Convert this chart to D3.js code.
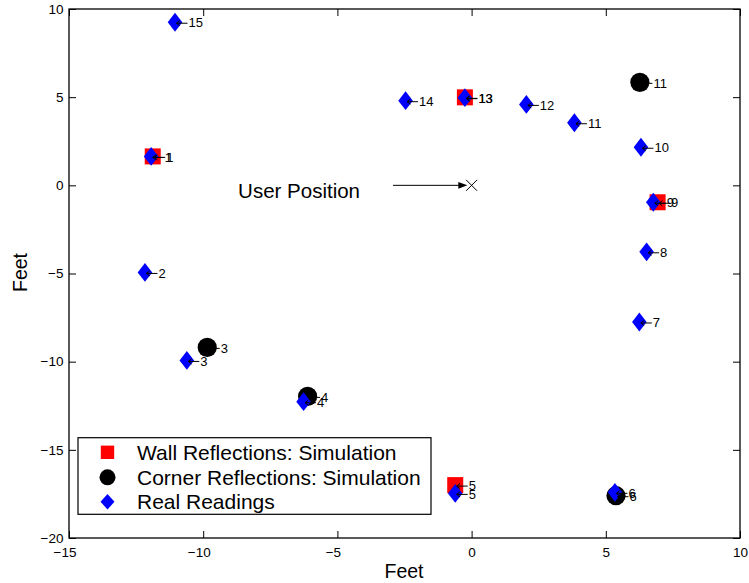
<!DOCTYPE html>
<html>
<head>
<meta charset="utf-8">
<script src="https://cdn.jsdelivr.net/npm/d3@7"></script>
<style>
  html, body { margin: 0; padding: 0; background: #fff; }
  svg { display: block; }
  text { font-family: "Liberation Sans", Arial, Helvetica, sans-serif; fill: #000; }
</style>
</head>
<body>
<svg id="chart" width="749" height="583"></svg>
<script>
// Measured reading positions (feet), numbered 1..15
const readingIds = [1, 2, 3, 4, 5, 6, 7, 8, 9, 10, 11, 12, 13, 14, 15];
const readingX = [-11.94, -12.17, -10.61, -6.26, -0.61, 5.34, 6.25, 6.52, 6.77, 6.31, 3.83, 2.04, -0.25, -2.46, -11.05];
const readingY = [1.64, -4.94, -9.93, -12.27, -17.47, -17.41, -7.75, -3.77, -0.96, 2.16, 3.55, 4.59, 4.97, 4.80, 9.25];

// Simulated wall reflections
const wallIds = [1, 5, 9, 13];
const wallX = [-11.88, -0.61, 6.93, -0.25];
const wallY = [1.64, -17.00, -0.96, 4.99];

// Simulated corner reflections
const cornerIds = [3, 4, 6, 11];
const cornerX = [-9.85, -6.11, 5.38, 6.27];
const cornerY = [-9.19, -11.97, -17.60, 5.84];

// User position and the pointer to it
const userPos = [0, 0];
const pointerFrom = [-2.93, 0];
const pointerTo = [-0.16, 0];
const userText = "User Position";
const userTextAt = [-8.7, -0.72];

const xTicks = [-15, -10, -5, 0, 5, 10];
const yTicks = [-20, -15, -10, -5, 0, 5, 10];
const xLabel = "Feet";
const yLabel = "Feet";
const legendLabels = ["Wall Reflections: Simulation", "Corner Reflections: Simulation", "Real Readings"];

const svg = d3.select("#chart");
const L = 69, R = 740, T = 9, B = 538;

const x = d3.scaleLinear().domain([-15, 10]).range([L, R]);
const y = d3.scaleLinear().domain([-20, 10]).range([B, T]);

const fmt = d => d < 0 ? "\u2212" + Math.abs(d) : String(d);

// Axes with inward ticks
const gx = svg.append("g").attr("transform", `translate(0,${B})`)
  .call(d3.axisBottom(x).tickValues(xTicks).tickSizeInner(-7).tickSizeOuter(0).tickPadding(9).tickFormat(fmt));
gx.selectAll("text").attr("font-size", 13.5).attr("font-family", null)
  .attr("dx", d => d < 0 ? -4.5 : 0);

const gy = svg.append("g").attr("transform", `translate(${L},0)`)
  .call(d3.axisLeft(y).tickValues(yTicks).tickSizeInner(-7).tickSizeOuter(0).tickPadding(5.5).tickFormat(fmt));
gy.selectAll("text").attr("font-size", 13.5).attr("font-family", null);

const gt = svg.append("g").attr("transform", `translate(0,${T})`)
  .call(d3.axisTop(x).tickValues(xTicks).tickSizeInner(-7).tickSizeOuter(0).tickFormat(""));
const gr = svg.append("g").attr("transform", `translate(${R},0)`)
  .call(d3.axisRight(y).tickValues(yTicks).tickSizeInner(-7).tickSizeOuter(0).tickFormat(""));

[gx, gy, gt, gr].forEach(g => {
  g.select(".domain").remove();
  g.selectAll("line").attr("stroke", "#000").attr("stroke-width", 1);
});

svg.append("rect").attr("x", L).attr("y", T).attr("width", R - L).attr("height", B - T)
  .attr("fill", "none").attr("stroke", "#000").attr("stroke-width", 1.3);

// Axis titles
svg.append("text").attr("x", (L + R) / 2 - 0.5).attr("y", 578).attr("text-anchor", "middle")
  .attr("font-size", 19.5).text(xLabel);
svg.append("text").attr("transform", `translate(27,${272.5}) rotate(-90)`).attr("text-anchor", "middle")
  .attr("font-size", 19.5).text(yLabel);

// Markers
const plot = svg.append("g");
const diamond = (s, hw, hh) => `M0,${-hh}L${hw},0L0,${hh}L${-hw},0Z`;

plot.selectAll("rect.wall").data(wallIds).join("rect").attr("class", "wall")
  .attr("x", (d, i) => x(wallX[i]) - 8).attr("y", (d, i) => y(wallY[i]) - 8)
  .attr("width", 16).attr("height", 16).attr("fill", "#ff0000");

plot.selectAll("circle.corner").data(cornerIds).join("circle").attr("class", "corner")
  .attr("cx", (d, i) => x(cornerX[i])).attr("cy", (d, i) => y(cornerY[i]))
  .attr("r", 9.6).attr("fill", "#000");

plot.selectAll("path.reading").data(readingIds).join("path").attr("class", "reading")
  .attr("transform", (d, i) => `translate(${x(readingX[i])},${y(readingY[i])})`)
  .attr("d", diamond(0, 7.3, 9.4)).attr("fill", "#0000ff");

// Point labels: small left arrow followed by the id
function addLabels(ids, xs, ys) {
  ids.forEach((id, i) => {
    const cx = x(xs[i]), cy = y(ys[i]);
    const g = svg.append("g").attr("transform", `translate(${cx},${cy})`);
    g.append("path").attr("d", "M1.5,1L12.5,1M4.8,-1.6L1.5,1L4.8,3.6")
      .attr("fill", "none").attr("stroke", "#000").attr("stroke-width", 1);
    g.append("text").attr("x", 13.5).attr("y", 5.2).attr("font-size", 13).text(id);
  });
}
addLabels(wallIds, wallX, wallY);
addLabels(cornerIds, cornerX, cornerY);
addLabels(readingIds, readingX, readingY);

// User position marker and pointer
const ux = x(userPos[0]), uy = y(userPos[1]);
svg.append("path").attr("d", `M${ux - 5.5},${uy - 5.5}L${ux + 5.5},${uy + 5.5}M${ux - 5.5},${uy + 5.5}L${ux + 5.5},${uy - 5.5}`)
  .attr("stroke", "#000").attr("stroke-width", 1).attr("fill", "none");
const px0 = x(pointerFrom[0]), px1 = x(pointerTo[0]), py = y(pointerFrom[1]);
svg.append("line").attr("x1", px0).attr("x2", px1 - 7).attr("y1", py).attr("y2", py)
  .attr("stroke", "#000").attr("stroke-width", 1);
svg.append("path").attr("d", `M${px1},${py}L${px1 - 9},${py - 3.3}L${px1 - 9},${py + 3.3}Z`).attr("fill", "#000");
svg.append("text").attr("x", x(userTextAt[0])).attr("y", y(userTextAt[1]))
  .attr("font-size", 20.5).text(userText);

// Legend
const lg = svg.append("g");
lg.append("rect").attr("x", 78).attr("y", 437.7).attr("width", 353).attr("height", 76.6)
  .attr("fill", "#fff").attr("stroke", "#000").attr("stroke-width", 1.2);
const rowY = [452.3, 477.3, 501.7];
const mx = 107.5;
lg.append("rect").attr("x", mx - 6.7).attr("y", rowY[0] - 6.7).attr("width", 13.4).attr("height", 13.4).attr("fill", "#ff0000");
lg.append("circle").attr("cx", mx).attr("cy", rowY[1]).attr("r", 8).attr("fill", "#000");
lg.append("path").attr("transform", `translate(${mx},${rowY[2]})`).attr("d", diamond(0, 7, 7.8)).attr("fill", "#0000ff");
lg.selectAll("text.lab").data(legendLabels).join("text").attr("class", "lab")
  .attr("x", 137).attr("y", (d, i) => rowY[i] + 7.2).attr("font-size", 21).text(d => d);
</script>
</body>
</html>
